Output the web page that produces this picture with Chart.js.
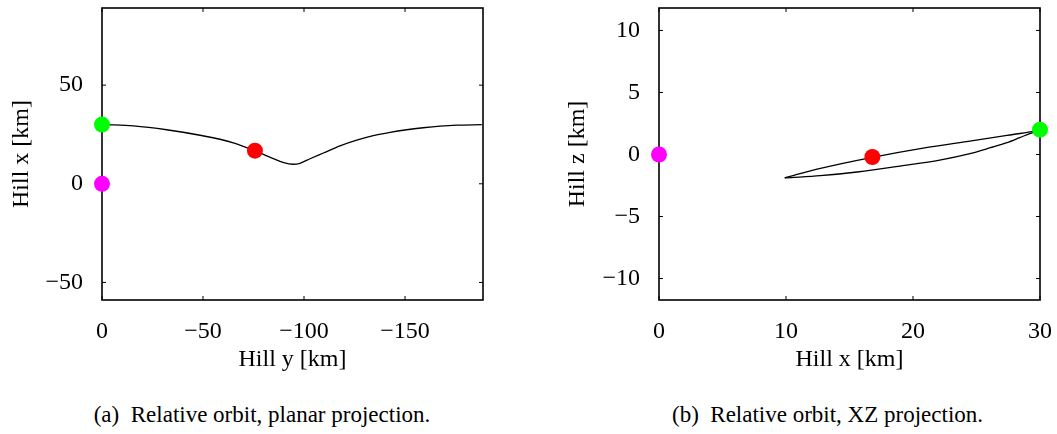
<!DOCTYPE html>
<html><head><meta charset="utf-8">
<script src="https://cdn.jsdelivr.net/npm/chart.js@4"></script>
<style>
body{margin:0;background:#fff;width:1057px;height:434px;overflow:hidden;position:relative;}
.wrap{position:absolute;top:0;}
.cap{position:absolute;top:401px;font-size:23px;line-height:28px;text-align:center;color:#000;white-space:nowrap;}
</style></head><body>
<div class="wrap" style="left:0;width:540px;height:380px"><canvas id="c1" width="540" height="380"></canvas></div>
<div class="wrap" style="left:540px;width:517px;height:380px"><canvas id="c2" width="517" height="380"></canvas></div>
<div class="cap" id="capA" style="left:0;width:524px">(a)&ensp;Relative orbit, planar projection.</div>
<div class="cap" id="capB" style="left:598px;width:459px">(b)&ensp;Relative orbit, XZ projection.</div>
<script>
// Trajectory samples (km)
const hillX = [30, 29.9, 29.35, 27.4, 24.6, 20.8, 16.7, 12.8, 10.7, 9.9, 10.4, 12.7, 15.6, 19.2, 22.1, 24.4, 26.1, 27.4, 28.4, 29.2, 29.7, 29.95];
const hillY = [0, -4, -15.5, -32, -48.5, -65, -75.7, -84.8, -90, -94.5, -98, -103, -109.6, -117.8, -126.1, -134.3, -142.6, -150.8, -159, -167.3, -175.6, -188];
const hillZ = [2.0, 1.95, 1.85, 1.54, 1.10, 0.51, -0.25, -1.1, -1.66, -1.89, -1.86, -1.71, -1.41, -0.90, -0.45, 0.05, 0.55, 0.96, 1.36, 1.69, 1.87, 1.95];
const tipIndex = 9; // closest approach in x (end of first leg)

// Markers: origin (magenta), start (green), current (red)
const markerNames = ['origin', 'start', 'current'];
const markerX = [0, 30, 16.8];
const markerY = [0, 0, -75.7];
const markerZ = [0, 2.0, -0.2];

// Tick labels
const ticksA_x = [0, -50, -100, -150];
const ticksA_y = [-50, 0, 50];
const ticksB_x = [0, 10, 20, 30];
const ticksB_y = [-10, -5, 0, 5, 10];

const markerColors = ['#ff00ff', '#00ff00', '#ff0000'];

// pick the first installed serif face
function pickFont(list) {
  const c = document.createElement('canvas').getContext('2d');
  const s = 'Hill y [km] (a) Relative 0123456789';
  for (const base of ['monospace', 'sans-serif']) { /* dual check */ }
  for (const f of list) {
    let ok = false;
    for (const base of ['monospace', 'sans-serif']) {
      c.font = '40px ' + base; const w0 = c.measureText(s).width;
      c.font = '40px "' + f + '", ' + base; const w1 = c.measureText(s).width;
      if (Math.abs(w1 - w0) > 0.5) ok = true;
    }
    if (ok) return '"' + f + '"';
  }
  return 'serif';
}
const FONT = pickFont(['Liberation Serif', 'Tinos', 'Times New Roman', 'Nimbus Roman', 'Noto Serif', 'DejaVu Serif', 'FreeSerif']) + ', serif';
document.getElementById('capA').style.fontFamily = FONT;
document.getElementById('capB').style.fontFamily = FONT;
const fmt = v => String(v).replace('-', '\u2212');

const boxPlugin = {
  id: 'box',
  beforeDatasetsDraw(chart) {
    const {ctx, chartArea: a, scales} = chart;
    ctx.save();
    ctx.strokeStyle = '#000';
    ctx.lineWidth = 1;
    const L = 4;
    scales.x.ticks.forEach(t => {
      const p = scales.x.getPixelForValue(t.value);
      ctx.beginPath();
      ctx.moveTo(p, a.bottom); ctx.lineTo(p, a.bottom - L);
      ctx.moveTo(p, a.top); ctx.lineTo(p, a.top + L);
      ctx.stroke();
    });
    scales.y.ticks.forEach(t => {
      const p = scales.y.getPixelForValue(t.value);
      ctx.beginPath();
      ctx.moveTo(a.left, p); ctx.lineTo(a.left + L, p);
      ctx.moveTo(a.right, p); ctx.lineTo(a.right - L, p);
      ctx.stroke();
    });
    ctx.lineWidth = 1.6;
    ctx.strokeRect(a.left, a.top, a.right - a.left, a.bottom - a.top);
    ctx.restore();
  }
};

function makeChart(id, cfg) {
  const lineDs = cfg.legs.map(leg => ({
    type: 'scatter', data: leg, showLine: true, borderColor: '#000', borderWidth: 1.3,
    pointRadius: 0, cubicInterpolationMode: 'monotone', fill: false, order: 2
  }));
  const markDs = cfg.marks.map((m, i) => ({
    type: 'scatter', label: markerNames[i], data: [m], backgroundColor: markerColors[i],
    borderWidth: 0, pointRadius: 8, pointHoverRadius: 8, clip: false, order: 1
  }));
  return new Chart(document.getElementById(id), {
    type: 'scatter',
    data: {datasets: [...lineDs, ...markDs]},
    plugins: [boxPlugin],
    options: {
      responsive: false, animation: false, devicePixelRatio: 1,
      layout: {padding: {left: 0, top: 1, right: cfg.padRight, bottom: 0}},
      plugins: {legend: {display: false}, tooltip: {enabled: false}},
      scales: {
        x: {
          type: 'linear', min: cfg.xmin, max: cfg.xmax, reverse: cfg.reverse,
          grid: {display: false}, border: {display: false},
          afterBuildTicks: s => { s.ticks = cfg.xt.map(v => ({value: v})); },
          afterFit: s => { s.height = 80; s.paddingLeft = 0; s.paddingRight = 0; },
          ticks: {color: '#000', padding: 9, maxRotation: 0, autoSkip: false, font: {family: FONT, size: 24}, callback: fmt},
          title: {display: true, text: cfg.xlabel, color: '#000', font: {family: FONT, size: 24}, padding: {top: 0, bottom: 6}}
        },
        y: {
          type: 'linear', min: cfg.ymin, max: cfg.ymax,
          grid: {display: false}, border: {display: false},
          afterBuildTicks: s => { s.ticks = cfg.yt.map(v => ({value: v})); },
          afterFit: s => { s.width = cfg.yw; s.paddingTop = 0; s.paddingBottom = 0; },
          ticks: {color: '#000', padding: 11, autoSkip: false, font: {family: FONT, size: 24}, callback: fmt},
          title: {display: true, text: cfg.ylabel, color: '#000', font: {family: FONT, size: 24}, padding: {top: cfg.ytp, bottom: 0}}
        }
      }
    }
  });
}

const ptsA = hillY.map((y, i) => ({x: y, y: hillX[i]}));
const ptsB = hillX.map((x, i) => ({x: x, y: hillZ[i]}));

makeChart('c1', {
  legs: [ptsA],
  marks: markerY.map((y, i) => ({x: y, y: markerX[i]})),
  xmin: -188.6, xmax: 0, reverse: true, ymin: -58.9, ymax: 89.1,
  xt: ticksA_x, yt: ticksA_y, xlabel: 'Hill y [km]', ylabel: 'Hill x [km]',
  yw: 102, ytp: 7, padRight: 57
});
makeChart('c2', {
  legs: [ptsB.slice(0, tipIndex + 1), ptsB.slice(tipIndex)],
  marks: markerX.map((x, i) => ({x: x, y: markerZ[i]})),
  xmin: 0, xmax: 30, reverse: false, ymin: -11.73, ymax: 11.81,
  xt: ticksB_x, yt: ticksB_y, xlabel: 'Hill x [km]', ylabel: 'Hill z [km]',
  yw: 119, ytp: 23, padRight: 17
});
</script>
</body></html>
